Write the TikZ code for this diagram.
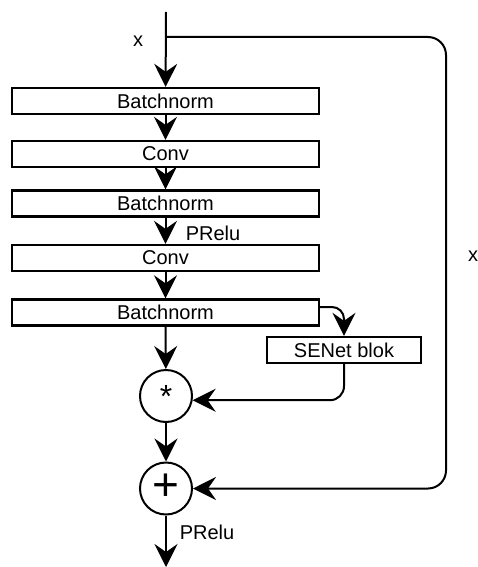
\documentclass[tikz,border=0pt]{standalone}
\usepackage{fontspec}
\setmainfont{Liberation Sans}
\usetikzlibrary{arrows.meta,calc}
\begin{document}
\begin{tikzpicture}[x=1pt,y=-1pt,
  line width=2pt,
  arr/.style={-{Stealth[length=23pt,width=23pt,inset=8pt]}},
  layer/.style={draw,rectangle,line width=2.3pt,minimum width=307pt,minimum height=26pt,inner sep=0pt,font=\fontsize{20}{22}\selectfont},
  op/.style={draw,circle,minimum size=52pt,inner sep=0pt},
  lbl/.style={font=\fontsize{20}{22}\selectfont,inner sep=0pt}]
\useasboundingbox (0,0) rectangle (478,567);
\coordinate (top) at (166,12);
\coordinate (split) at (166,37);
\coordinate (rr) at (446,37);
\node[layer] (bn1) at (165.5,101) {Batchnorm};
\node[layer] (cv1) at (165.5,154) {Conv};
\node[layer] (bn2) at (165.5,203.5) {Batchnorm};
\node[layer] (cv2) at (165.5,258) {Conv};
\node[layer] (bn3) at (165.5,312.5) {Batchnorm};
\node[layer,minimum width=154pt] (se) at (344,350) {SENet blok};
\node[op] (mul) at (166,396) {\fontsize{32}{32}\selectfont\raisebox{0pt}{*}};
\node[op] (add) at (166,488.5) {\fontsize{46}{46}\selectfont\raisebox{2pt}{+}};
\coordinate (bot) at (166,567);
\coordinate (sek) at (344,307);
\node[lbl] (x1) at (138,41) {x};
\node[lbl] (x2) at (473,256) {x};
\node[lbl] (pr1) at (213,233) {PRelu};
\node[lbl] (pr2) at (207,532) {PRelu};
\draw[arr] (top) -- (bn1);
\draw[arr] (bn1) -- (cv1);
\draw[arr] (cv1) -- (bn2);
\draw[arr] (bn2) -- (cv2);
\draw[arr] (cv2) -- (bn3);
\draw[arr] (bn3) -- (mul);
\draw[arr] (mul) -- (add);
\draw[arr] (add) -- (bot);
\draw[arr,rounded corners=12pt] (bn3.east |- sek) -- (sek) -- (se.north);
\draw[arr,rounded corners=14pt] (se.south) |- (mul.-9);
\draw[arr,rounded corners=18pt] (split) -- (rr) |- (add.east);
\end{tikzpicture}
\end{document}
